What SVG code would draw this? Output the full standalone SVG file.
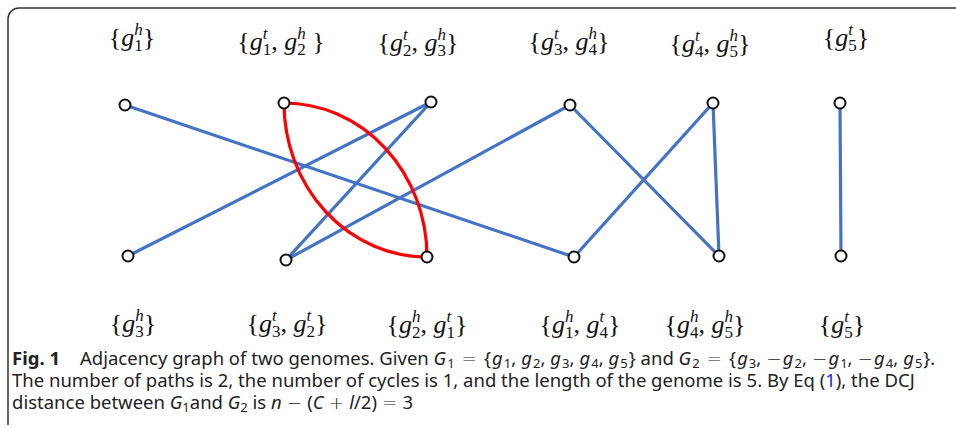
<svg xmlns="http://www.w3.org/2000/svg" width="956" height="428" viewBox="0 0 956 428">
<style>
.lbl{font-family:"Liberation Serif","DejaVu Serif",serif;font-size:26px;fill:#111;text-anchor:middle}
.i{font-style:italic}
.s{font-size:17px}
.node{fill:#fff;stroke:#111;stroke-width:2}
.b{stroke:#4472C4;stroke-width:3.2;fill:none;stroke-linecap:round}
.r{stroke:#FF0000;stroke-width:3.2;fill:none}
.cap{font-family:"Noto Sans","Open Sans",sans-serif;font-size:18.5px;fill:#222}
.m{font-style:italic}
.sb{font-size:13px}
.op{font-family:"DejaVu Sans",sans-serif;font-weight:200}
</style>
<rect width="956" height="428" fill="#fff"/>
<path d="M956 8 H19 A11 11 0 0 0 8 19 V425" fill="none" stroke="#333" stroke-width="1.5"/>
<g id="connectors">
<path class="b" d="M125 105 L574 257"/>
<path class="b" d="M128 256 L431 102"/>
<path class="b" d="M286 260 L431 102"/>
<path class="b" d="M286 260 L570 105"/>
<path class="b" d="M570 105 L719 256"/>
<path class="b" d="M574 257 L713 103"/>
<path class="b" d="M713 103 L719 256"/>
<path class="b" d="M840 103 L841 256"/>
<path class="r" d="M284 103 A143 154 0 0 0 427 257"/>
<path class="r" d="M284 103 A143 154 0 0 1 427 257"/>
</g>
<g id="top1"><circle class="node" cx="125" cy="105" r="5.5"/><text class="lbl" x="132" y="46">{<tspan class="i">g</tspan><tspan class="s" dy="5">1</tspan><tspan class="s i" dx="-8.5" dy="-16">h</tspan><tspan dy="11">}</tspan></text></g>
<g id="top2"><circle class="node" cx="284" cy="103" r="5.5"/><text class="lbl" x="281" y="50">{<tspan class="i">g</tspan><tspan class="s" dy="5">1</tspan><tspan class="s i" dx="-8.5" dy="-16">t</tspan><tspan dx="3.8" dy="11">, </tspan><tspan class="i">g</tspan><tspan class="s" dy="5">2</tspan><tspan class="s i" dx="-8.5" dy="-16">h</tspan><tspan dy="11"> }</tspan></text></g>
<g id="top3"><circle class="node" cx="431" cy="102" r="5.5"/><text class="lbl" x="418" y="51">{<tspan class="i">g</tspan><tspan class="s" dy="5">2</tspan><tspan class="s i" dx="-8.5" dy="-16">t</tspan><tspan dx="3.8" dy="11">, </tspan><tspan class="i">g</tspan><tspan class="s" dy="5">3</tspan><tspan class="s i" dx="-8.5" dy="-16">h</tspan><tspan dy="11">}</tspan></text></g>
<g id="top4"><circle class="node" cx="570" cy="105" r="5.5"/><text class="lbl" x="569" y="50">{<tspan class="i">g</tspan><tspan class="s" dy="5">3</tspan><tspan class="s i" dx="-8.5" dy="-16">t</tspan><tspan dx="3.8" dy="11">, </tspan><tspan class="i">g</tspan><tspan class="s" dy="5">4</tspan><tspan class="s i" dx="-8.5" dy="-16">h</tspan><tspan dy="11">}</tspan></text></g>
<g id="top5"><circle class="node" cx="713" cy="103" r="5.5"/><text class="lbl" x="710" y="52">{<tspan class="i">g</tspan><tspan class="s" dy="5">4</tspan><tspan class="s i" dx="-8.5" dy="-16">t</tspan><tspan dx="3.8" dy="11">, </tspan><tspan class="i">g</tspan><tspan class="s" dy="5">5</tspan><tspan class="s i" dx="-8.5" dy="-16">h</tspan><tspan dy="11">}</tspan></text></g>
<g id="top6"><circle class="node" cx="840" cy="103" r="5.5"/><text class="lbl" x="846" y="46">{<tspan class="i">g</tspan><tspan class="s" dy="5">5</tspan><tspan class="s i" dx="-8.5" dy="-16">t</tspan><tspan dx="3.8" dy="11">}</tspan></text></g>
<g id="bot1"><circle class="node" cx="128" cy="256" r="5.5"/><text class="lbl" x="133" y="332">{<tspan class="i">g</tspan><tspan class="s" dy="5">3</tspan><tspan class="s i" dx="-8.5" dy="-16">h</tspan><tspan dy="11">}</tspan></text></g>
<g id="bot2"><circle class="node" cx="286" cy="260" r="5.5"/><text class="lbl" x="287" y="332">{<tspan class="i">g</tspan><tspan class="s" dy="5">3</tspan><tspan class="s i" dx="-8.5" dy="-16">t</tspan><tspan dx="3.8" dy="11">, </tspan><tspan class="i">g</tspan><tspan class="s" dy="5">2</tspan><tspan class="s i" dx="-8.5" dy="-16">t</tspan><tspan dx="3.8" dy="11">}</tspan></text></g>
<g id="bot3"><circle class="node" cx="427" cy="257" r="5.5"/><text class="lbl" x="427" y="333">{<tspan class="i">g</tspan><tspan class="s" dy="5">2</tspan><tspan class="s i" dx="-8.5" dy="-16">h</tspan><tspan dy="11">, </tspan><tspan class="i">g</tspan><tspan class="s" dy="5">1</tspan><tspan class="s i" dx="-8.5" dy="-16">t</tspan><tspan dx="3.8" dy="11">}</tspan></text></g>
<g id="bot4"><circle class="node" cx="574" cy="257" r="5.5"/><text class="lbl" x="580" y="333">{<tspan class="i">g</tspan><tspan class="s" dy="5">1</tspan><tspan class="s i" dx="-8.5" dy="-16">h</tspan><tspan dy="11">, </tspan><tspan class="i">g</tspan><tspan class="s" dy="5">4</tspan><tspan class="s i" dx="-8.5" dy="-16">t</tspan><tspan dx="3.8" dy="11">}</tspan></text></g>
<g id="bot5"><circle class="node" cx="719" cy="256" r="5.5"/><text class="lbl" x="705" y="333">{<tspan class="i">g</tspan><tspan class="s" dy="5">4</tspan><tspan class="s i" dx="-8.5" dy="-16">h</tspan><tspan dy="11">, </tspan><tspan class="i">g</tspan><tspan class="s" dy="5">5</tspan><tspan class="s i" dx="-8.5" dy="-16">h</tspan><tspan dy="11">}</tspan></text></g>
<g id="bot6"><circle class="node" cx="841" cy="256" r="5.5"/><text class="lbl" x="842" y="333">{<tspan class="i">g</tspan><tspan class="s" dy="5">5</tspan><tspan class="s i" dx="-8.5" dy="-16">t</tspan><tspan dx="3.8" dy="11">}</tspan></text></g>
<g id="caption">
<text class="cap" x="12" y="365" font-weight="bold">Fig. 1</text>
<text class="cap" x="80" y="365">Adjacency graph of two genomes. Given <tspan class="m">G</tspan><tspan class="sb" dx="1" dy="3">1</tspan><tspan class="op" dx="7" dy="-3">=</tspan><tspan dx="7">{</tspan><tspan class="m" dx="1">g</tspan><tspan class="sb" dx="1" dy="3">1</tspan><tspan dy="-3">,</tspan><tspan class="m" dx="5">g</tspan><tspan class="sb" dx="1" dy="3">2</tspan><tspan dy="-3">,</tspan><tspan class="m" dx="5">g</tspan><tspan class="sb" dx="1" dy="3">3</tspan><tspan dy="-3">,</tspan><tspan class="m" dx="5">g</tspan><tspan class="sb" dx="1" dy="3">4</tspan><tspan dy="-3">,</tspan><tspan class="m" dx="5">g</tspan><tspan class="sb" dx="1" dy="3">5</tspan><tspan dx="1" dy="-3">} and </tspan><tspan class="m">G</tspan><tspan class="sb" dx="1" dy="3">2</tspan><tspan class="op" dx="7" dy="-3">=</tspan><tspan dx="7">{</tspan><tspan class="m" dx="1">g</tspan><tspan class="sb" dx="1" dy="3">3</tspan><tspan dy="-3">,</tspan><tspan class="op" dx="5">−</tspan><tspan class="m" dx="1">g</tspan><tspan class="sb" dx="1" dy="3">2</tspan><tspan dy="-3">,</tspan><tspan class="op" dx="5">−</tspan><tspan class="m" dx="1">g</tspan><tspan class="sb" dx="1" dy="3">1</tspan><tspan dy="-3">,</tspan><tspan class="op" dx="5">−</tspan><tspan class="m" dx="1">g</tspan><tspan class="sb" dx="1" dy="3">4</tspan><tspan dy="-3">,</tspan><tspan class="m" dx="5">g</tspan><tspan class="sb" dx="1" dy="3">5</tspan><tspan dx="1" dy="-3">}.</tspan></text>
<text class="cap" x="12" y="387">The number of paths is 2, the number of cycles is 1, and the length of the genome is 5. By Eq (<tspan fill="#2a2ae0">1</tspan>), the DCJ</text>
<text class="cap" x="12" y="409">distance between <tspan class="m">G</tspan><tspan class="sb" dy="3">1</tspan><tspan dy="-3">and </tspan><tspan class="m">G</tspan><tspan class="sb" dy="3">2</tspan><tspan dy="-3"> is </tspan><tspan class="m">n</tspan><tspan class="op" dx="5">−</tspan><tspan dx="5">(</tspan><tspan class="m">C</tspan><tspan class="op" dx="5">+</tspan><tspan class="m" dx="5">l</tspan>/2)<tspan class="op" dx="5">=</tspan><tspan dx="5">3</tspan></text>
</g>
</svg>
